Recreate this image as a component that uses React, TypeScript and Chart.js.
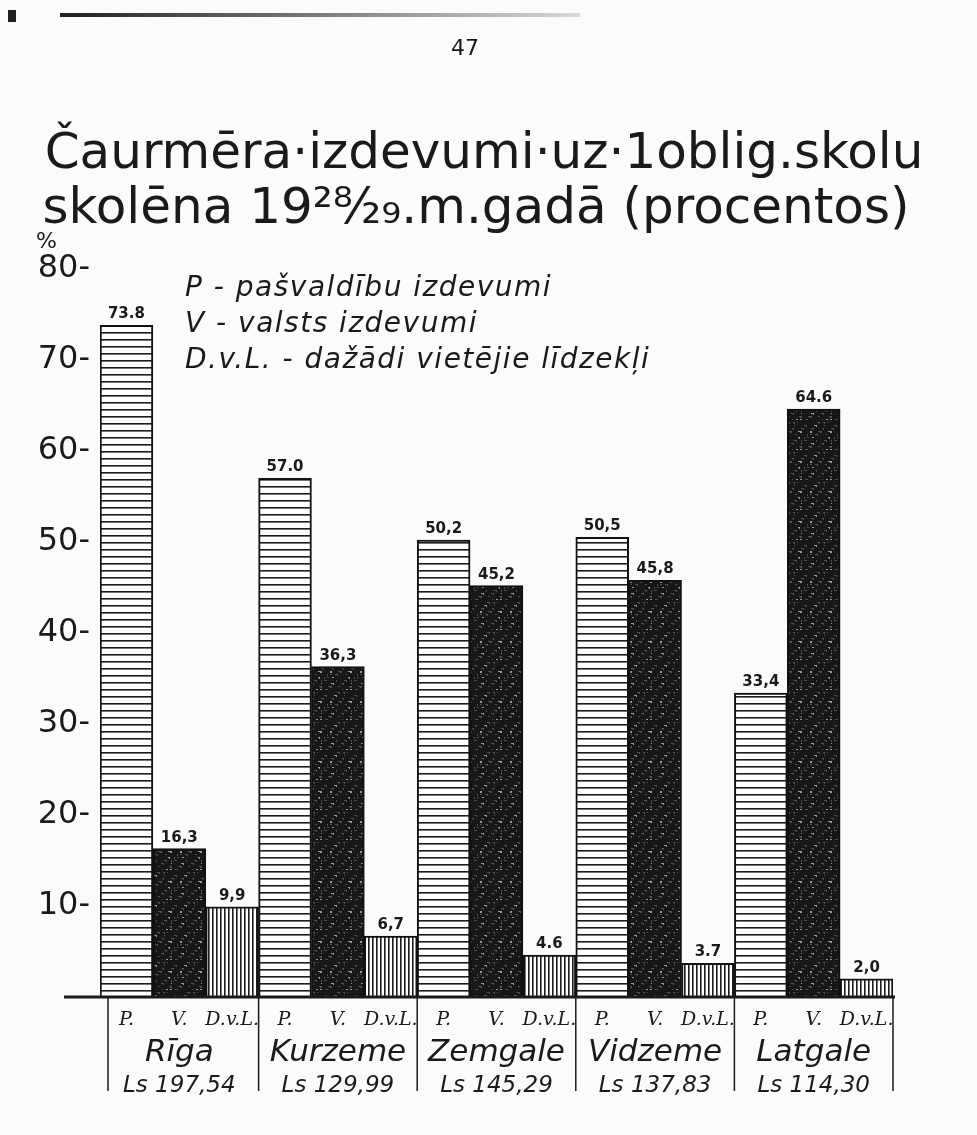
import React, { useEffect, useRef } from "react";
import { Chart, registerables } from "chart.js";

Chart.register(...registerables);

const pageNumber = "47";
const titleLines = [
  "Čaurmēra·izdevumi·uz·1oblig.skolu",
  "skolēna 19²⁸⁄₂₉.m.gadā (procentos)",
];
const legendLines = [
  "P - pašvaldību izdevumi",
  "V - valsts izdevumi",
  "D.v.L. - dažādi vietējie līdzekļi",
];
const regions = ["Rīga", "Kurzeme", "Zemgale", "Vidzeme", "Latgale"];
const perPupil = ["Ls 197,54", "Ls 129,99", "Ls 145,29", "Ls 137,83", "Ls 114,30"];
const seriesShort = ["P.", "V.", "D.v.L."];
const municipal = [73.8, 57.0, 50.2, 50.5, 33.4];
const stateFunds = [16.3, 36.3, 45.2, 45.8, 64.6];
const localMeans = [9.9, 6.7, 4.6, 3.7, 2.0];
const municipalLabels = ["73.8", "57.0", "50,2", "50,5", "33,4"];
const stateLabels = ["16,3", "36,3", "45,2", "45,8", "64.6"];
const localLabels = ["9,9", "6,7", "4.6", "3.7", "2,0"];
const yMax = 80;
const yStep = 10;

function makeHPattern(ctx: CanvasRenderingContext2D) {
  const c = document.createElement("canvas");
  c.width = 8;
  c.height = 7;
  const g = c.getContext("2d")!;
  g.fillStyle = "#ffffff";
  g.fillRect(0, 0, 8, 7);
  g.fillStyle = "#1c1c1c";
  g.fillRect(0, 3, 8, 1.6);
  return ctx.createPattern(c, "repeat")!;
}

function makeVPattern(ctx: CanvasRenderingContext2D) {
  const c = document.createElement("canvas");
  c.width = 4;
  c.height = 8;
  const g = c.getContext("2d")!;
  g.fillStyle = "#ffffff";
  g.fillRect(0, 0, 4, 8);
  g.fillStyle = "#1c1c1c";
  g.fillRect(0, 0, 1.6, 8);
  return ctx.createPattern(c, "repeat")!;
}

function makeSpecklePattern(ctx: CanvasRenderingContext2D) {
  const size = 30;
  const c = document.createElement("canvas");
  c.width = size;
  c.height = size;
  const g = c.getContext("2d")!;
  g.fillStyle = "#171717";
  g.fillRect(0, 0, size, size);
  for (let i = 0; i < 70; i++) {
    const x = (i * 37 + (i % 7) * 5) % size;
    const y = (i * 53 + 11 + (i % 3) * 4) % size;
    g.fillStyle = i % 4 === 0 ? "#9a9a9a" : "#505050";
    g.fillRect(x, y, i % 5 === 0 ? 2 : 1, i % 3 === 0 ? 2 : 1);
  }
  return ctx.createPattern(c, "repeat")!;
}

const decorPlugin = {
  id: "decor",
  beforeDraw(chart: any) {
    const { ctx, width, height } = chart;
    ctx.save();
    ctx.fillStyle = "#fbfbf9";
    ctx.fillRect(0, 0, width, height);
    ctx.fillStyle = "#222";
    ctx.fillRect(8, 10, 8, 12);
    const grad = ctx.createLinearGradient(60, 0, 580, 0);
    grad.addColorStop(0, "rgba(20,20,20,0.95)");
    grad.addColorStop(1, "rgba(20,20,20,0.15)");
    ctx.fillStyle = grad;
    ctx.fillRect(60, 13, 520, 4);
    ctx.restore();
  },
  afterDraw(chart: any) {
    const { ctx, chartArea } = chart;
    const x = chart.scales.x;
    const y = chart.scales.y;
    ctx.save();
    ctx.fillStyle = "#1a1a1a";
    ctx.strokeStyle = "#1a1a1a";
    ctx.textAlign = "center";
    ctx.textBaseline = "alphabetic";

    ctx.font = "22px 'DejaVu Sans'";
    ctx.fillText(pageNumber, 465, 55);

    ctx.font = "50px 'DejaVu Sans'";
    ctx.fillText(titleLines[0], 484, 168);
    ctx.fillText(titleLines[1], 476, 223);

    ctx.textAlign = "left";
    ctx.font = "italic 28px 'DejaVu Sans'";
    (ctx as any).letterSpacing = "1.5px";
    legendLines.forEach((l, i) => ctx.fillText(l, 185, 296 + i * 36));
    (ctx as any).letterSpacing = "0px";

    ctx.font = "22px 'DejaVu Sans'";
    ctx.fillText("%", 36, 248);

    const labelSets = [municipalLabels, stateLabels, localLabels];
    ctx.textAlign = "center";
    ctx.font = "bold 15px 'DejaVu Sans'";
    chart.data.datasets.forEach((_: any, di: number) => {
      const meta = chart.getDatasetMeta(di);
      meta.data.forEach((el: any, i: number) => {
        ctx.fillText(labelSets[di][i], el.x, el.y - 7);
      });
    });

    const base = y.getPixelForValue(0);
    ctx.lineWidth = 3;
    ctx.beginPath();
    ctx.moveTo(64, base);
    ctx.lineTo(chartArea.right + 2, base);
    ctx.stroke();

    const n = regions.length;
    const w = (chartArea.right - chartArea.left) / n;
    ctx.lineWidth = 1.5;
    for (let i = 0; i <= n; i++) {
      const bx = chartArea.left + i * w + (i === 0 ? 8 : 0);
      ctx.beginPath();
      ctx.moveTo(bx, base);
      ctx.lineTo(bx, base + 94);
      ctx.stroke();
    }
    ctx.font = "italic 19px 'DejaVu Serif'";
    chart.data.datasets.forEach((_: any, di: number) => {
      const meta = chart.getDatasetMeta(di);
      meta.data.forEach((el: any) => {
        ctx.fillText(seriesShort[di], el.x, base + 28);
      });
    });
    for (let i = 0; i < n; i++) {
      const cx = x.getPixelForValue(i);
      ctx.font = "italic 31px 'DejaVu Sans'";
      ctx.fillText(regions[i], cx, base + 64);
      ctx.font = "italic 23px 'DejaVu Sans'";
      ctx.fillText(perPupil[i], cx, base + 95);
    }
    ctx.restore();
  },
};

export default function App() {
  const ref = useRef<HTMLCanvasElement | null>(null);
  useEffect(() => {
    const canvas = ref.current!;
    const ctx = canvas.getContext("2d")!;
    const hP = makeHPattern(ctx);
    const vP = makeVPattern(ctx);
    const sP = makeSpecklePattern(ctx);
    const chart = new Chart(canvas, {
      type: "bar",
      data: {
        labels: regions,
        datasets: [
          { label: "P", data: municipal, backgroundColor: hP as any, borderColor: "#111", borderWidth: 2 },
          { label: "V", data: stateFunds, backgroundColor: sP as any, borderColor: "#111", borderWidth: 2 },
          { label: "D.v.L.", data: localMeans, backgroundColor: vP as any, borderColor: "#111", borderWidth: 2 },
        ],
      },
      options: {
        animation: false,
        responsive: true,
        maintainAspectRatio: false,
        events: [],
        layout: { padding: { left: 0, right: 84, top: 269, bottom: 138 } },
        datasets: { bar: { categoryPercentage: 1, barPercentage: 1 } },
        plugins: { legend: { display: false }, tooltip: { enabled: false }, title: { display: false } },
        scales: {
          x: { display: false },
          y: {
            min: 0,
            max: yMax,
            grid: { display: false },
            border: { display: false },
            afterFit(scale: any) {
              scale.width = 100;
            },
            ticks: {
              stepSize: yStep,
              padding: 2,
              color: "#1a1a1a",
              font: { family: "'DejaVu Sans'", size: 32 },
              callback: (v: any) => (v === 0 ? "" : `${v}-`),
            },
          },
        },
      },
      plugins: [decorPlugin],
    });
    return () => chart.destroy();
  }, []);
  return (
    <div style={{ position: "fixed", left: 0, top: 0, width: 977, height: 1135 }}>
      <canvas ref={ref} />
    </div>
  );
}
